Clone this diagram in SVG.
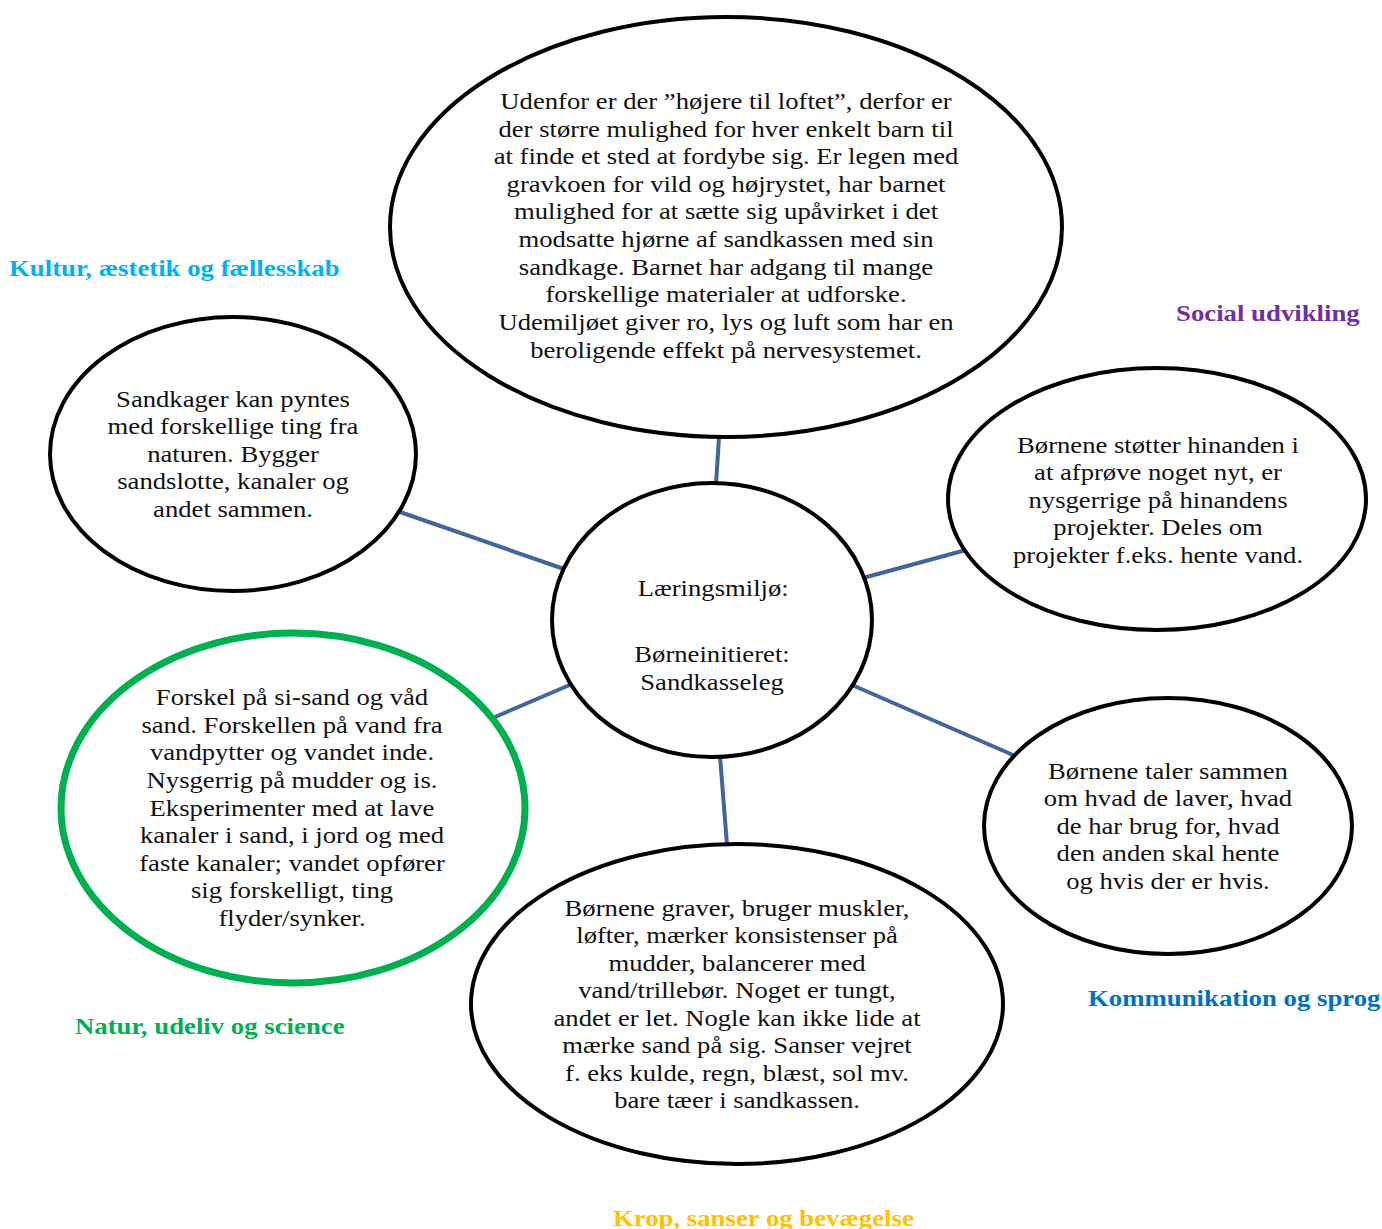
<svg xmlns="http://www.w3.org/2000/svg" width="1382" height="1229" viewBox="0 0 1382 1229">
<style>
.n{fill:#fff;stroke:#000;stroke-width:4}
.g{fill:#fff;stroke:#00b050;stroke-width:7}
.t{font-family:"Liberation Serif","Times New Roman",serif;font-size:22.5px;fill:#111;text-anchor:middle}
.l{font-family:"Liberation Serif","Times New Roman",serif;font-size:22.5px;font-weight:bold;text-anchor:start}
.c line{stroke:#41669a;stroke-width:4}
</style>
<rect width="1382" height="1229" fill="#fff"/>
<g class="c" id="connectors">
<line x1="719" y1="437" x2="716" y2="484"/>
<line x1="400" y1="512" x2="564" y2="569"/>
<line x1="863" y1="578" x2="966" y2="550"/>
<line x1="495" y1="717" x2="572" y2="684"/>
<line x1="852" y1="685" x2="1013" y2="755"/>
<line x1="720" y1="756" x2="727" y2="845"/>
</g>
<g id="n-top">
<ellipse class="n" cx="726" cy="227" rx="336" ry="210"/>
<text class="t" transform="matrix(1.185,0,0,1,-134.3,0)"><tspan x="726" y="109">Udenfor er der ”højere til loftet”, derfor er</tspan><tspan x="726" y="137">der større mulighed for hver enkelt barn til</tspan><tspan x="726" y="164">at finde et sted at fordybe sig. Er legen med</tspan><tspan x="726" y="192">gravkoen for vild og højrystet, har barnet</tspan><tspan x="726" y="219">mulighed for at sætte sig upåvirket i det</tspan><tspan x="726" y="247">modsatte hjørne af sandkassen med sin</tspan><tspan x="726" y="275">sandkage. Barnet har adgang til mange</tspan><tspan x="726" y="302">forskellige materialer at udforske.</tspan><tspan x="726" y="330">Udemiljøet giver ro, lys og luft som har en</tspan><tspan x="726" y="358">beroligende effekt på nervesystemet.</tspan></text>
</g>
<g id="n-kultur">
<ellipse class="n" cx="233" cy="454" rx="183" ry="137"/>
<text class="t" transform="matrix(1.185,0,0,1,-43.1,0)"><tspan x="233" y="407">Sandkager kan pyntes</tspan><tspan x="233" y="434">med forskellige ting fra</tspan><tspan x="233" y="462">naturen. Bygger</tspan><tspan x="233" y="489">sandslotte, kanaler og</tspan><tspan x="233" y="517">andet sammen.</tspan></text>
</g>
<g id="n-social">
<ellipse class="n" cx="1157" cy="499" rx="209" ry="131"/>
<text class="t" transform="matrix(1.185,0,0,1,-214.2,0)"><tspan x="1158" y="453">Børnene støtter hinanden i</tspan><tspan x="1158" y="480">at afprøve noget nyt, er</tspan><tspan x="1158" y="508">nysgerrige på hinandens</tspan><tspan x="1158" y="535">projekter. Deles om</tspan><tspan x="1158" y="563">projekter f.eks. hente vand.</tspan></text>
</g>
<g id="n-center">
<ellipse class="n" cx="712" cy="620" rx="160" ry="137"/>
<text class="t" transform="matrix(1.185,0,0,1,-131.7,0)"><tspan x="713" y="596">Læringsmiljø:</tspan><tspan x="712" y="662">Børneinitieret:</tspan><tspan x="712" y="690">Sandkasseleg</tspan></text>
</g>
<g id="n-natur">
<ellipse class="g" cx="293" cy="808" rx="232" ry="175"/>
<text class="t" transform="matrix(1.185,0,0,1,-54.0,0)"><tspan x="292" y="705">Forskel på si-sand og våd</tspan><tspan x="292" y="733">sand. Forskellen på vand fra</tspan><tspan x="292" y="760">vandpytter og vandet inde.</tspan><tspan x="292" y="788">Nysgerrig på mudder og is.</tspan><tspan x="292" y="816">Eksperimenter med at lave</tspan><tspan x="292" y="843">kanaler i sand, i jord og med</tspan><tspan x="292" y="871">faste kanaler; vandet opfører</tspan><tspan x="292" y="898">sig forskelligt, ting</tspan><tspan x="292" y="926">flyder/synker.</tspan></text>
</g>
<g id="n-kommunikation">
<ellipse class="n" cx="1168" cy="826" rx="184" ry="128"/>
<text class="t" transform="matrix(1.185,0,0,1,-216.1,0)"><tspan x="1168" y="779">Børnene taler sammen</tspan><tspan x="1168" y="806">om hvad de laver, hvad</tspan><tspan x="1168" y="834">de har brug for, hvad</tspan><tspan x="1168" y="861">den anden skal hente</tspan><tspan x="1168" y="889">og hvis der er hvis.</tspan></text>
</g>
<g id="n-krop">
<ellipse class="n" cx="737" cy="1004" rx="266" ry="160"/>
<text class="t" transform="matrix(1.185,0,0,1,-136.3,0)"><tspan x="737" y="916">Børnene graver, bruger muskler,</tspan><tspan x="737" y="943">løfter, mærker konsistenser på</tspan><tspan x="737" y="971">mudder, balancerer med</tspan><tspan x="737" y="998">vand/trillebør. Noget er tungt,</tspan><tspan x="737" y="1026">andet er let. Nogle kan ikke lide at</tspan><tspan x="737" y="1053">mærke sand på sig. Sanser vejret</tspan><tspan x="737" y="1081">f. eks kulde, regn, blæst, sol mv.</tspan><tspan x="737" y="1108">bare tæer i sandkassen.</tspan></text>
</g>
<g id="labels">
<text class="l" x="9" y="276" fill="#00b0f0" transform="matrix(1.19,0,0,1,-1.7,0)">Kultur, æstetik og fællesskab</text>
<text class="l" x="1176" y="321" fill="#7030a0" transform="matrix(1.19,0,0,1,-223.4,0)">Social udvikling</text>
<text class="l" x="1088" y="1006" fill="#0070c0" transform="matrix(1.19,0,0,1,-206.7,0)">Kommunikation og sprog</text>
<text class="l" x="613" y="1226" fill="#ffc000" transform="matrix(1.19,0,0,1,-116.5,0)">Krop, sanser og bevægelse</text>
<text class="l" x="75" y="1034" fill="#00b050" transform="matrix(1.19,0,0,1,-14.3,0)">Natur, udeliv og science</text>
</g>
</svg>
